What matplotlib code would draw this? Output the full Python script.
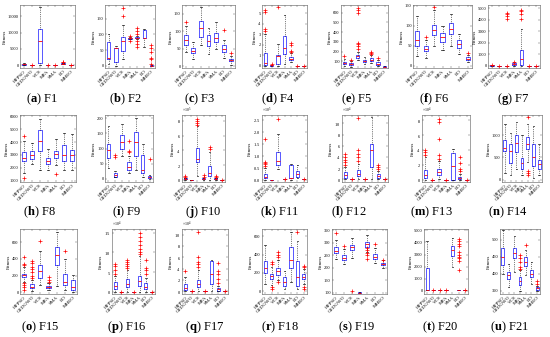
import matplotlib
matplotlib.use("Agg")
import matplotlib.pyplot as plt
from matplotlib.ticker import ScalarFormatter

plt.rcParams['font.family'] = ['Liberation Serif', 'DejaVu Serif']
plt.rcParams['mathtext.fontset'] = 'custom'
plt.rcParams['mathtext.rm'] = 'Liberation Serif'
plt.rcParams['mathtext.bf'] = 'Liberation Serif:bold'
plt.rcParams['mathtext.it'] = 'Liberation Serif:italic'

algos = ["HFPSO", "GEDGWO", "VCS", "MFA", "SMA", "EO", "MHEO"]
titles = ["F%d" % i for i in range(1, 22)]
letters = "abcdefghijklmnopqrstu"

# power of ten shown above the axis (0 = none); values below are in displayed units
scale = [0, 0, 0, 0, 0, 0, 0,
         0, 0, 5, 5, 4, 4, 0,
         0, 4, 4, 0, 0, 0, 0]

yticks = [
    [0, 5000, 10000, 15000], [0, 50, 100, 150], [0, 50, 100, 150], [0, 1, 2, 3, 4, 5],
    [100, 200, 300, 400, 500, 600], [0, 50, 100, 150], [0, 1000, 2000, 3000, 4000, 5000],
    [1000, 2000, 3000, 4000, 5000, 6000], [0, 50, 100, 150, 200], [0, 2, 4, 6, 8],
    [0, 0.5, 1, 1.5, 2, 2.5], [0, 2, 4, 6, 8, 10], [0, 2, 4, 6, 8], [0, 500, 1000],
    [0, 200, 400, 600], [0, 5, 10, 15], [0, 2, 4, 6, 8, 10], [0, 200, 400, 600],
    [100, 150, 200, 250, 300, 350], [0, 1000, 2000, 3000, 4000, 5000], [350, 400, 450, 500],
]
ylims = [
    (-900, 18500), (-8, 195), (-5, 175), (-0.2, 5.8), (30, 680), (-5, 152), (-200, 5300),
    (900, 6100), (-10, 210), (-0.3, 8.8), (-0.1, 2.7), (-0.5, 11.5), (-0.3, 8.7), (-50, 1450),
    (-20, 760), (-0.6, 16), (-0.5, 11), (-30, 680), (95, 355), (-250, 5100), (340, 532),
]

med = [
    [200, 0, 7500, 0, 0, 400, 0],
    [25, 57, 80, 88, 90, 90, 0],
    [75, 45, 108, 72, 80, 50, 18],
    [0.3, 0.05, 0.95, 1.7, 0.7, 0, 0],
    [80, 70, 150, 100, 115, 75, 45],
    [65, 42, 90, 72, 93, 55, 18],
    [30, 0, 0, 150, 600, 0, 0],
    [2800, 3000, 4050, 2500, 3100, 3000, 3000],
    [95, 13, 120, 40, 122, 30, 6],
    [0.1, 0, 2.8, 0.1, 0.9, 0.1, 0],
    [0.1, 0, 0.78, 0.02, 0.07, 0.25, 0.02],
    [0.8, 0, 1.0, 0, 5.2, 0.6, 0],
    [0.6, 0, 1.1, 0, 1.8, 0.2, 0],
    [720, 650, 830, 370, 800, 500, 350],
    [205, 70, 260, 65, 450, 130, 60],
    [1.5, 0, 2, 0, 2.8, 1.3, 0],
    [0.5, 0, 1.2, 0, 3.1, 0.3, 0],
    [250, 165, 220, 100, 340, 160, 160],
    [268, 240, 285, 101, 295, 245, 215],
    [100, 100, 100, 100, 3350, 100, 100],
    [450, 395, 460, 378, 435, 400, 357],
]
q1 = [
    [100, 0, 500, 0, 0, 300, 0],
    [20, 10, 48, 86, 88, 88, 0],
    [62, 38, 85, 58, 68, 40, 15],
    [0.05, 0.02, 0.2, 1.1, 0.6, 0, 0],
    [70, 60, 135, 90, 105, 65, 40],
    [50, 37, 78, 60, 80, 45, 15],
    [10, 0, 0, 80, 100, 0, 0],
    [2500, 2700, 3300, 2300, 2800, 2500, 2500],
    [70, 8, 100, 30, 75, 20, 3],
    [0.05, 0, 2.4, 0.05, 0.5, 0.05, 0],
    [0.05, 0, 0.6, 0.02, 0.05, 0.1, 0.02],
    [0.3, 0, 0.5, 0, 2.2, 0.3, 0],
    [0.2, 0, 0.6, 0, 0, 0.05, 0],
    [650, 380, 620, 250, 700, 300, 250],
    [180, 50, 170, 50, 330, 90, 30],
    [0.8, 0, 1.2, 0, 1.5, 0.8, 0],
    [0.2, 0, 0.7, 0, 1.3, 0.1, 0],
    [200, 130, 180, 60, 250, 60, 130],
    [258, 230, 270, 100, 282, 237, 210],
    [100, 100, 100, 100, 2900, 100, 100],
    [425, 385, 445, 368, 422, 390, 353],
]
q3 = [
    [350, 0, 11000, 0, 0, 500, 0],
    [77, 58, 92, 90, 92, 115, 2],
    [88, 52, 128, 88, 95, 60, 22],
    [1.25, 0.08, 1.05, 2.8, 0.85, 0, 0],
    [95, 80, 160, 115, 130, 90, 50],
    [87, 50, 102, 82, 107, 65, 23],
    [50, 0, 0, 230, 1400, 0, 0],
    [3200, 3300, 4900, 2750, 3300, 3800, 3400],
    [115, 20, 145, 55, 155, 80, 10],
    [0.2, 0, 4.3, 0.2, 1.9, 0.2, 0],
    [0.25, 0, 1.15, 0.02, 0.62, 0.38, 0.02],
    [1.3, 0, 1.6, 0, 6.3, 0.9, 0],
    [1.3, 0, 1.5, 0, 3.6, 0.4, 0],
    [900, 800, 1000, 480, 950, 800, 450],
    [220, 100, 330, 80, 540, 220, 150],
    [2.5, 0, 3.3, 0, 4, 2.1, 0],
    [1.2, 0, 1.9, 0, 5.3, 0.6, 0],
    [330, 190, 250, 160, 480, 330, 190],
    [282, 250, 292, 103, 305, 255, 220],
    [1900, 100, 100, 100, 3700, 100, 100],
    [475, 405, 475, 390, 450, 412, 362],
]
lo = [
    [0, 0, 0, 0, 0, 200, 0],
    [5, 0, 20, 84, 86, 60, 0],
    [40, 22, 60, 35, 50, 25, 5],
    [0, 0, 0, 0.2, 0.4, 0, 0],
    [50, 45, 110, 70, 80, 50, 30],
    [25, 20, 50, 40, 50, 30, 10],
    [0, 0, 0, 0, 0, 0, 0],
    [1600, 2300, 1800, 1800, 2200, 1800, 1800],
    [35, 5, 75, 20, 30, 5, 0],
    [0, 0, 0.5, 0, 0, 0, 0],
    [0, 0, 0.45, 0.02, 0, 0.05, 0.02],
    [0, 0, 0, 0, 0, 0, 0],
    [0, 0, 0.1, 0, 0, 0, 0],
    [150, 100, 250, 100, 400, 50, 100],
    [130, 20, 90, 30, 80, 30, 10],
    [0, 0, 0, 0, 0, 0, 0],
    [0, 0, 0, 0, 0, 0, 0],
    [80, 70, 120, 20, 100, 20, 80],
    [235, 215, 240, 98, 265, 220, 200],
    [100, 100, 100, 100, 2000, 100, 100],
    [400, 360, 405, 350, 395, 370, 350],
]
hi = [
    [500, 0, 18000, 0, 0, 700, 0],
    [100, 63, 130, 92, 94, 118, 3],
    [115, 70, 170, 110, 125, 75, 30],
    [3.0, 0.12, 2.1, 4.8, 1.2, 0, 0],
    [120, 100, 200, 140, 160, 115, 55],
    [125, 65, 140, 100, 130, 80, 28],
    [80, 0, 0, 300, 3200, 0, 0],
    [4100, 3900, 5800, 3500, 4200, 4700, 4600],
    [175, 25, 180, 75, 200, 115, 12],
    [0.3, 0, 7.3, 0.3, 3.8, 0.3, 0],
    [0.5, 0, 1.9, 0.02, 0.65, 0.6, 0.02],
    [2.2, 0, 2.8, 0, 11.2, 1.5, 0],
    [3, 0, 2.5, 0, 4.1, 0.8, 0],
    [1250, 1050, 1300, 1000, 1250, 1200, 800],
    [300, 150, 500, 110, 720, 400, 210],
    [4, 0, 5.5, 0, 9, 3.5, 0],
    [2.5, 0, 3.8, 0, 5.5, 1, 0],
    [500, 270, 340, 220, 650, 550, 240],
    [310, 275, 318, 105, 330, 280, 230],
    [4100, 100, 100, 100, 4400, 100, 100],
    [530, 430, 510, 410, 470, 435, 365],
]
outliers = [
    [[], [0], [], [50], [50], [900, 1100], [0]],
    [[], [], [160, 185], [80, 95], [60, 70, 80, 100, 110, 120], [], [5, 20, 25, 45, 55, 65]],
    [[125], [], [], [], [], [103], [38]],
    [[3.3, 3.5, 5.1, 5.3], [0.15], [5.6], [], [1.3, 1.4, 2.0, 2.2], [0.02], [0.02]],
    [[150], [110], [230, 260, 280, 290, 600, 630, 650], [], [170, 180, 195], [130], []],
    [[], [72], [148], [], [], [], [33]],
    [[100], [10], [10, 4100, 4300, 4500, 4600], [350], [4100, 4500, 4800, 4900], [10], [10]],
    [[1200, 4500], [], [], [], [1500], [], []],
    [[], [72, 78], [], [88, 92, 125], [], [], [65]],
    [[0.4, 0.5], [], [7.5, 7.7, 8.0, 8.2], [0.4, 0.6], [4.2, 4.4], [0.4, 0.5], [0]],
    [[0.55, 0.65, 0.7, 0.75, 1.7], [], [2.55], [0.03], [], [], [0.03]],
    [[2.5, 3, 3.5, 4, 4.5], [0], [3.2, 4, 4.5, 5.2, 11], [0], [], [1.8, 2.2, 2.5], [0]],
    [[3.3, 3.7, 4.0], [0], [2.8, 3.3, 5.5, 7.8, 8.2], [0], [], [1.2, 1.5, 2.2, 3], [0]],
    [[], [], [], [], [100, 150, 200, 1400], [], []],
    [[30, 60, 90, 110, 330, 340, 420], [170, 200, 240, 280, 300, 350, 380], [620],
     [130, 150, 180], [], [500], []],
    [[4.5, 5.5, 6.5, 7], [0], [6, 6.5, 7, 7.5, 8], [0], [9.5, 10, 11, 12, 13, 14, 15],
     [4.5, 5.5, 6, 8], [0]],
    [[3.6], [0], [4.2, 4.8, 5.2, 6, 10.5], [0], [], [1.5, 2.2, 3, 3.5, 5], [0]],
    [[], [30, 50, 300, 320], [100, 370, 400, 430], [], [], [650], [30, 50, 260, 280]],
    [[338], [288], [108], [], [235, 250, 260, 270, 280], [295], [232]],
    [[], [100], [100], [100], [], [1700, 2500, 2700, 2800, 3000, 3200, 3700, 3900, 4100, 4300],
     [100]],
    [[], [], [], [415, 420, 435, 445, 455], [485], [], [370, 378]],
]

# panel geometry in pixels of the 550x337 canvas
W, H = 550, 337
rows_y = [(5, 68), (115, 182), (229, 294)]
cols_x = [
    [(20, 75), (105, 155), (182, 235), (262, 307), (341, 388), (413, 472), (488, 540)],
    [(20, 76), (105, 153), (182, 225), (262, 307), (342, 388), (422, 470), (502, 542)],
    [(20, 77), (112, 155), (182, 228), (262, 307), (332, 387), (424, 468), (500, 540)],
]
cap_x = [
    [42, 125, 200, 278, 357, 434, 513],
    [40, 127, 203, 280, 349, 431, 508],
    [40, 127, 205, 280, 357, 440, 510],
]
cap_y = [99, 212, 327]

fig = plt.figure(figsize=(W / 100, H / 100), dpi=100)

for k in range(21):
    r, c = divmod(k, 7)
    x0, x1 = cols_x[r][c]
    y0, y1 = rows_y[r]
    ax = fig.add_axes([x0 / W, 1 - y1 / H, (x1 - x0) / W, (y1 - y0) / H])
    f = 10.0 ** scale[k]
    stats = []
    for j in range(7):
        stats.append(dict(med=med[k][j] * f, q1=q1[k][j] * f, q3=q3[k][j] * f,
                          whislo=lo[k][j] * f, whishi=hi[k][j] * f,
                          fliers=[v * f for v in outliers[k][j]]))
    ax.bxp(stats, positions=range(1, 8), widths=0.5, showfliers=True,
           boxprops=dict(color='#3b3bff', linewidth=0.6),
           medianprops=dict(color='red', linewidth=0.6),
           whiskerprops=dict(color='black', linestyle=':', linewidth=0.5),
           capprops=dict(color='black', linewidth=0.5),
           flierprops=dict(marker='+', markeredgecolor='red', markersize=3,
                           markeredgewidth=0.5, linestyle='none'))
    ax.set_xlim(0.5, 7.5)
    ax.set_ylim(ylims[k][0] * f, ylims[k][1] * f)
    ax.set_yticks([t * f for t in yticks[k]])
    if scale[k]:
        fmt = ScalarFormatter(useMathText=True)
        fmt.set_powerlimits((scale[k], scale[k]))
        ax.yaxis.set_major_formatter(fmt)
        ax.yaxis.get_offset_text().set_visible(False)
        ax.text(0, 1.0, r"$\times10^{%d}$" % scale[k], transform=ax.transAxes,
                ha='left', va='bottom', fontsize=2.8)
    ax.set_xticks(range(1, 8))
    ax.set_xticklabels(algos, rotation=45, ha='right', rotation_mode='anchor')
    ax.tick_params(axis='x', labelsize=3.6)
    ax.tick_params(axis='y', labelsize=3.2)
    ax.tick_params(length=1.5, width=0.3, direction='in', pad=1,
                   right=True, top=True, color='0.3')
    for s in ax.spines.values():
        s.set_linewidth(0.4)
        s.set_color('0.35')
    ax.set_ylabel("Fitness", fontsize=3.6, labelpad=1)
    fig.text(cap_x[r][c] / W, 1 - cap_y[r] / H,
             r"($\mathbf{%s}$) %s" % (letters[k], titles[k]),
             ha='center', va='center', fontsize=9)

fig.savefig("out.png", dpi=100)
